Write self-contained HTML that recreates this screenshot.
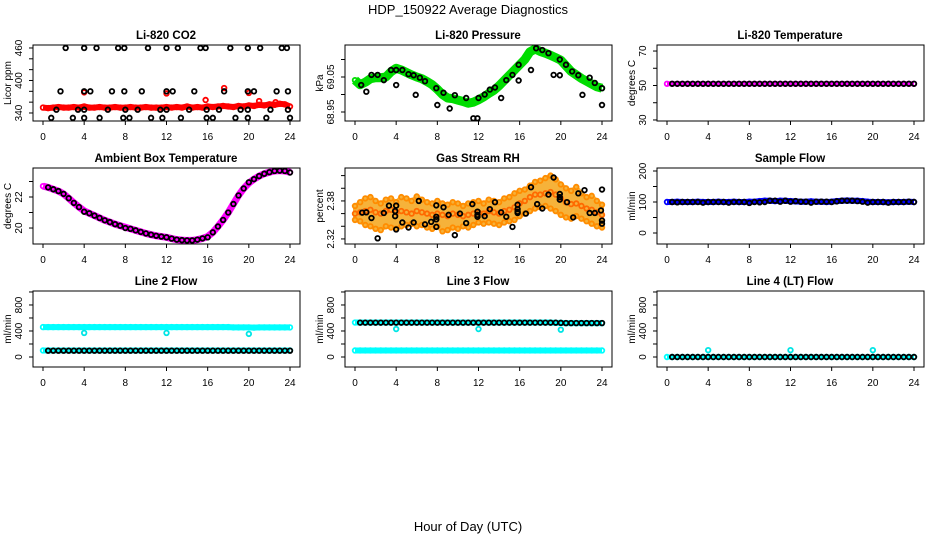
<!DOCTYPE html>
<html><head><meta charset="utf-8"><style>
html,body{margin:0;padding:0;background:#fff;}
svg{display:block;font-family:"Liberation Sans",Helvetica,Arial,sans-serif;}
</style></head><body>
<svg id="chart" width="936" height="540" viewBox="0 0 936 540" xmlns="http://www.w3.org/2000/svg">
<rect width="936" height="540" fill="#fff"/>
<text x="468" y="14" font-size="13" text-anchor="middle">HDP_150922  Average Diagnostics</text>
<text x="468" y="531" font-size="13" text-anchor="middle">Hour of Day (UTC)</text>
</svg>
<script>
const hBand=[0,0.5,1,1.5,2,2.5,3,3.5,4,4.5,5,5.5,6,6.5,7,7.5,8,8.5,9,9.5,10,10.5,11,11.5,12,12.5,13,13.5,14,14.5,15,15.5,16,16.5,17,17.5,18,18.5,19,19.5,20,20.5,21,21.5,22,22.5,23,23.5,24];
const hBlack=[0.5,1,1.5,2,2.5,3,3.5,4,4.5,5,5.5,6,6.5,7,7.5,8,8.5,9,9.5,10,10.5,11,11.5,12,12.5,13,13.5,14,14.5,15,15.5,16,16.5,17,17.5,18,18.5,19,19.5,20,20.5,21,21.5,22,22.5,23,23.5,24];
const xTicks=[0,4,8,12,16,20,24];
// CO2
const co2Red=[350,349,350,351,350,350,351,350,352,350,350,351,350,350,351,350,350,351,350,350,351,350,350,350,351,350,351,350,352,350,351,350,352,351,352,353,352,351,353,352,354,353,355,354,356,355,357,356,352];
const co2RedOutH=[4,12,20,17.6,15.8,21,22.6];
const co2RedOutV=[378,376,377,386,364,362,360];
const co2BlkH=[2.2,4,5.2,7.3,7.9,10.2,12,13.1,15.3,15.8,18.2,19.9,21.1,23.2,23.7,1.7,4,4.6,6.7,7.9,9.6,12,12.6,14.7,17.6,19.9,20.5,22.7,23.8,1.3,3.4,4,6.3,8,9.2,11.4,12,14.2,15.9,17.1,19.2,19.9,22.1,23.8,0.8,2.9,4,5.5,7.8,8.4,10.5,11.6,13.4,15.9,16.5,18.7,19.9,21.7,24];
const co2BlkV=[460,460,460,460,460,460,460,460,460,460,460,460,460,460,460,380,380,380,380,380,380,380,380,380,380,380,380,380,380,346,346,346,346,346,346,346,346,346,346,346,346,346,346,346,331,331,331,331,331,331,331,331,331,331,331,331,331,331,331];
// Pressure
const presGreen=[69.041,69.028,69.035,69.045,69.048,69.048,69.05,69.065,69.075,69.07,69.063,69.056,69.05,69.045,69.037,69.028,69.015,69.0,68.99,68.988,68.984,68.98,68.975,68.978,68.985,68.993,69.003,69.012,69.025,69.04,69.055,69.07,69.085,69.1,69.122,69.13,69.123,69.118,69.112,69.105,69.098,69.082,69.066,69.056,69.046,69.038,69.03,69.022,69.018];
const presBlkH=[0.6,1.1,1.6,2.2,2.8,3.5,4,4,4.6,5.2,5.7,5.9,6.3,6.8,7.9,8,8.6,9.2,9.7,10.8,11.5,11.9,12,12.6,13.1,13.6,14.2,14.7,15.3,15.9,15.9,17.1,17.6,18.2,18.8,19.3,19.9,19.9,20.5,21.1,21.7,22.1,22.8,23.3,24,24];
const presBlkV=[69.027,69.008,69.056,69.056,69.041,69.07,69.027,69.07,69.07,69.058,69.055,68.999,69.048,69.038,69.018,68.97,69.005,68.96,68.998,68.99,68.932,68.932,68.99,69.0,69.014,69.02,68.99,69.041,69.056,69.085,69.04,69.07,69.132,69.127,69.118,69.056,69.1,69.055,69.085,69.066,69.055,68.999,69.048,69.033,69.018,68.97];
// Li-820 temp
const ltMag=[51,51,51,51,51,51,51,51,51,51,51,51,51,51,51,51,51,51,51,51,51,51,51,51,51,51,51,51,51,51,51,51,51,51,51,51,51,51,51,51,51,51,51,51,51,51,51,51,51];
const ltBlk=[51,51,51,51,51,51,51,51,51,51,51,51,51,51,51,51,51,51,51,51,51,51,51,51,51,51,51,51,51,51,51,51,51,51,51,51,51,51,51,51,51,51,51,51,51,51,51,51];
// Ambient
const ambMag=[22.7,22.62,22.5,22.38,22.2,21.92,21.62,21.35,21.1,20.95,20.8,20.65,20.5,20.38,20.25,20.15,20.05,19.95,19.85,19.75,19.65,19.57,19.5,19.45,19.4,19.32,19.25,19.22,19.2,19.2,19.25,19.33,19.45,19.72,20.1,20.52,21.0,21.55,22.1,22.55,22.9,23.15,23.35,23.5,23.6,23.68,23.7,23.68,23.6];
const ambBlk=[22.62,22.5,22.38,22.2,21.92,21.62,21.35,21.05,20.95,20.8,20.65,20.5,20.38,20.25,20.15,20.0,19.95,19.85,19.75,19.65,19.57,19.5,19.45,19.4,19.32,19.25,19.22,19.2,19.2,19.25,19.33,19.4,19.72,20.1,20.52,21.0,21.55,22.1,22.55,22.95,23.15,23.35,23.5,23.6,23.68,23.7,23.68,23.58];
// RH
const rhUpper=[2.372,2.378,2.384,2.386,2.38,2.376,2.382,2.384,2.378,2.386,2.384,2.38,2.387,2.382,2.378,2.376,2.38,2.376,2.374,2.378,2.376,2.372,2.376,2.378,2.38,2.376,2.382,2.38,2.378,2.384,2.386,2.392,2.396,2.398,2.404,2.41,2.412,2.416,2.42,2.414,2.406,2.4,2.396,2.402,2.392,2.386,2.388,2.38,2.374];
const rhMid=[2.36,2.362,2.364,2.366,2.362,2.36,2.364,2.366,2.362,2.364,2.362,2.36,2.364,2.362,2.36,2.358,2.36,2.358,2.356,2.36,2.358,2.356,2.358,2.36,2.362,2.36,2.364,2.362,2.36,2.364,2.366,2.37,2.376,2.38,2.386,2.39,2.39,2.392,2.394,2.39,2.384,2.378,2.375,2.376,2.372,2.368,2.366,2.362,2.358];
const rhLower=[2.35,2.348,2.342,2.34,2.336,2.334,2.34,2.338,2.336,2.34,2.342,2.344,2.34,2.342,2.338,2.336,2.34,2.332,2.334,2.338,2.336,2.34,2.338,2.342,2.346,2.344,2.346,2.344,2.342,2.346,2.348,2.35,2.356,2.36,2.364,2.368,2.37,2.372,2.368,2.364,2.358,2.354,2.352,2.356,2.352,2.348,2.344,2.34,2.338];
const rhBlkH=[0.7,1.1,1.6,2.2,2.8,3.3,4,3.9,3.9,4,4.6,5.2,5.7,6.2,6.8,7.4,7.9,7.9,7.9,7.9,8.6,9.1,9.7,10.2,10.8,11.4,11.9,11.9,11.9,12.6,13.1,13.6,14.2,14.7,15.3,15.8,15.8,15.8,15.8,16.6,17.1,17.7,18.2,18.8,19.3,19.9,19.9,19.9,20.6,21.2,21.7,22.3,22.8,23.3,23.9,24,24,24];
const rhBlkV=[2.3615,2.362,2.353,2.321,2.361,2.3726,2.3726,2.364,2.356,2.335,2.346,2.338,2.346,2.38,2.343,2.347,2.373,2.355,2.351,2.339,2.37,2.358,2.326,2.36,2.345,2.375,2.363,2.358,2.355,2.356,2.367,2.378,2.362,2.355,2.339,2.374,2.367,2.363,2.361,2.36,2.4017,2.375,2.368,2.39,2.417,2.391,2.386,2.382,2.378,2.354,2.392,2.397,2.361,2.361,2.365,2.349,2.344,2.398];
// Sample flow
const sfBlue=[100,100,101,100,100,100,101,100,100,100,101,100,100,101,100,100,101,101,103,104,104,103,104,104,103,102,101,101,102,101,101,100,101,103,104,105,104,104,103,101,100,100,100,99,100,100,100,101,100];
const sfBlk=[100,99,100,100,100,100,98,100,100,100,100,98,100,100,100,97,100,99,100,104,104,101,104,101,103,101,101,98,101,101,101,100,102,104,104,104,103,101,98,100,100,100,98,100,100,100,101,100];
// Line flows
const l2CyanHi=[460,460,460,460,460,460,460,460,460,460,460,460,460,460,460,460,460,460,460,460,460,460,460,460,460,460,460,460,460,460,460,460,460,460,460,460,460,455,455,455,455,452,455,455,455,455,455,455,455];
const l2CyanLo=[100,100,100,100,100,100,100,100,100,100,100,100,100,100,100,100,100,100,100,100,100,100,100,100,100,100,100,100,100,100,100,100,100,100,100,100,100,100,100,100,100,100,100,100,100,100,100,100,100];
const l2Blk=[97,97,97,97,97,97,97,97,97,97,97,97,97,97,97,97,97,97,97,97,97,97,97,97,97,97,97,97,97,97,97,97,97,97,97,97,97,97,97,97,97,97,97,97,97,97,97,97];
const l2OutH=[4,12,20];
const l2OutV=[370,370,355];
const l3CyanHi=[530,530,530,530,530,530,530,530,530,530,530,530,530,530,530,530,530,530,530,530,530,530,530,530,530,530,530,530,530,530,530,530,530,530,530,530,530,530,530,525,525,520,520,520,520,520,520,520,520];
const l3CyanLo=[100,100,100,100,100,100,100,100,100,100,100,100,100,100,100,100,100,100,100,100,100,100,100,100,100,100,100,100,100,100,100,100,100,100,100,100,100,100,100,100,100,100,100,100,100,100,100,100,100];
const l3Blk=[528,528,528,528,528,528,528,528,528,528,528,528,528,528,528,528,528,528,528,528,528,528,528,528,528,528,528,528,528,528,528,528,528,528,528,528,528,528,528,525,522,522,522,522,522,522,522,522];
const l3OutH=[4,12,20];
const l3OutV=[430,430,420];
const l4Cyan=[0,0,0,0,0,0,0,0,0,0,0,0,0,0,0,0,0,0,0,0,0,0,0,0,0,0,0,0,0,0,0,0,0,0,0,0,0,0,0,0,0,0,0,0,0,0,0,0,0];
const l4Blk=[0,0,0,0,0,0,0,0,0,0,0,0,0,0,0,0,0,0,0,0,0,0,0,0,0,0,0,0,0,0,0,0,0,0,0,0,0,0,0,0,0,0,0,0,0,0,0,0];
const l4OutH=[4,12,20];
const l4OutV=[105,105,105];

const NS='http://www.w3.org/2000/svg';
const svg=document.getElementById('chart');
function mk(tag,attrs,parent){const e=document.createElementNS(NS,tag);for(const k in attrs)e.setAttribute(k,attrs[k]);(parent||svg).appendChild(e);return e;}

function panel(o){
  const ox=o.col*312, top=[45,168,291][o.row], bot=[121,244,367][o.row];
  const g=mk('g',{});
  
  
  const X=h=>ox+43+h*(247/24);
  const Y=v=>bot-(v-o.ymin)/(o.ymax-o.ymin)*(bot-top);
  const t=mk('text',{x:ox+166,y:top-6,'font-size':11.5,'font-weight':'bold','text-anchor':'middle'},g);
  t.textContent=o.title;
  
  
  const yl=mk('text',{x:0,y:0,'font-size':10,'text-anchor':'middle',transform:`translate(${ox+11},${(top+bot)/2}) rotate(-90)`},g);
  yl.textContent=o.ylab;
  
  
  const cid='clip'+o.name;
  const cp=mk('clipPath',{id:cid},g);mk('rect',{x:ox+33,y:top,width:267,height:bot-top},cp);
  const data=mk('g',{'clip-path':`url(#${cid})`},g);
  o.series.forEach(s=>{
    if(s.poly){
      let pts=s.h.map((h,i)=>X(h)+','+Y(s.upper[i])).concat(s.h.slice().reverse().map((h,i)=>X(h)+','+Y(s.lower[s.h.length-1-i])));
      const p=mk('polygon',{points:pts.join(' '),fill:s.color,stroke:s.color,'stroke-width':4},data);
      
      
      return;
    }
    if(s.band){
      const pl=mk('polyline',{points:s.h.map((h,i)=>X(h)+','+Y(s.v[i])).join(' '),fill:'none',stroke:s.color,'stroke-width':s.band,'stroke-linejoin':'round'},data);
      
      
    }
    s.h.forEach((h,i)=>{
      const c=mk('circle',{cx:X(h),cy:Y(s.v[i]),r:s.r||2.3,fill:'none',stroke:s.color,'stroke-width':s.sw||1.8},data);
      
      
    });
  });
  const box=mk('rect',{x:ox+33,y:top,width:267,height:bot-top,fill:'none',stroke:'#000','stroke-width':1},g);
  
  
  xTicks.forEach(v=>{
    mk('line',{x1:X(v),x2:X(v),y1:bot,y2:bot+4,stroke:'#000'},g);
    const tl=mk('text',{x:X(v),y:bot+19,'font-size':10,'text-anchor':'middle'},g);
    tl.textContent=v;
    
    
  });
  o.yticks.forEach(v=>{mk('line',{x1:ox+29,x2:ox+33,y1:Y(v),y2:Y(v),stroke:'#000'},g);});
  o.ylabels.forEach(v=>{
    const tl=mk('text',{x:0,y:0,'font-size':10,'text-anchor':'middle',transform:`translate(${ox+22},${Y(v)}) rotate(-90)`},g);
    tl.textContent=v;
    
    
  });
}

panel({name:'co2',col:0,row:0,title:'Li-820 CO2',ylab:'Licor ppm',ymin:325.2,ymax:465.5,yticks:[340,360,380,400,420,440,460],ylabels:['340','400','460'],
 series:[{name:'co2-red',h:hBand,v:co2Red,color:'#ff0000',band:6},{name:'co2-red-outlier',h:co2RedOutH,v:co2RedOutV,color:'#ff0000'},{name:'co2-black',h:co2BlkH,v:co2BlkV,color:'#000'}]});
panel({name:'pressure',col:1,row:0,title:'Li-820 Pressure',ylab:'kPa',ymin:68.9243,ymax:69.1414,yticks:[68.95,69.0,69.05,69.1],ylabels:['68.95','69.05'],
 series:[{name:'pressure-green',h:hBand,v:presGreen,color:'#00dd00',band:9},{name:'pressure-black',h:presBlkH,v:presBlkV,color:'#000'}]});
panel({name:'li820-temp',col:2,row:0,title:'Li-820 Temperature',ylab:'degrees C',ymin:29.4,ymax:73.5,yticks:[30,40,50,60,70],ylabels:['30','50','70'],
 series:[{name:'li820-temp-magenta',h:hBand,v:ltMag,color:'#ff00ff',band:5},{name:'li820-temp-black',h:hBlack,v:ltBlk,color:'#000'}]});
panel({name:'ambient',col:0,row:1,title:'Ambient Box Temperature',ylab:'degrees C',ymin:18.97,ymax:23.87,yticks:[20,21,22,23],ylabels:['20','22'],
 series:[{name:'ambient-magenta',h:hBand,v:ambMag,color:'#ff00ff',band:7},{name:'ambient-black',h:hBlack,v:ambBlk,color:'#000'}]});
panel({name:'rh',col:1,row:1,title:'Gas Stream RH',ylab:'percent',ymin:2.312,ymax:2.432,yticks:[2.32,2.34,2.36,2.38,2.40,2.42],ylabels:['2.32','2.38'],
 series:[{name:'rh-cloud',poly:true,h:hBand,upper:rhUpper,lower:rhLower,color:'#f6b23a'},{name:'rh-upper',h:hBand,v:rhUpper,color:'#ff8c00'},{name:'rh-mid',h:hBand,v:rhMid,color:'#ff6a00'},{name:'rh-lower',h:hBand,v:rhLower,color:'#ff8c00'},{name:'rh-black',h:rhBlkH,v:rhBlkV,color:'#000'}]});
panel({name:'sample-flow',col:2,row:1,title:'Sample Flow',ylab:'ml/min',ymin:-35.5,ymax:209.7,yticks:[0,50,100,150,200],ylabels:['0','100','200'],
 series:[{name:'sample-flow-blue',h:hBand,v:sfBlue,color:'#0000ff',band:6},{name:'sample-flow-black',h:hBlack,v:sfBlk,color:'#000'}]});
panel({name:'line2',col:0,row:2,title:'Line 2 Flow',ylab:'ml/min',ymin:-154,ymax:1015,yticks:[0,200,400,600,800,1000],ylabels:['0','400','800'],
 series:[{name:'line2-cyan-high',h:hBand,v:l2CyanHi,color:'#00ffff',band:6},{name:'line2-cyan-low',h:hBand,v:l2CyanLo,color:'#00ffff',band:6},{name:'line2-cyan-outlier',h:l2OutH,v:l2OutV,color:'#00e5e5'},{name:'line2-black',h:hBlack,v:l2Blk,color:'#000'}]});
panel({name:'line3',col:1,row:2,title:'Line 3 Flow',ylab:'ml/min',ymin:-154,ymax:1015,yticks:[0,200,400,600,800,1000],ylabels:['0','400','800'],
 series:[{name:'line3-cyan-high',h:hBand,v:l3CyanHi,color:'#00ffff',band:6},{name:'line3-cyan-low',h:hBand,v:l3CyanLo,color:'#00ffff',band:6},{name:'line3-cyan-outlier',h:l3OutH,v:l3OutV,color:'#00e5e5'},{name:'line3-black',h:hBlack,v:l3Blk,color:'#000'}]});
panel({name:'line4',col:2,row:2,title:'Line 4 (LT) Flow',ylab:'ml/min',ymin:-154,ymax:1015,yticks:[0,200,400,600,800,1000],ylabels:['0','400','800'],
 series:[{name:'line4-cyan',h:hBand,v:l4Cyan,color:'#00ffff',band:5},{name:'line4-cyan-outlier',h:l4OutH,v:l4OutV,color:'#00e5e5'},{name:'line4-black',h:hBlack,v:l4Blk,color:'#000'}]});
</script>
</body></html>
